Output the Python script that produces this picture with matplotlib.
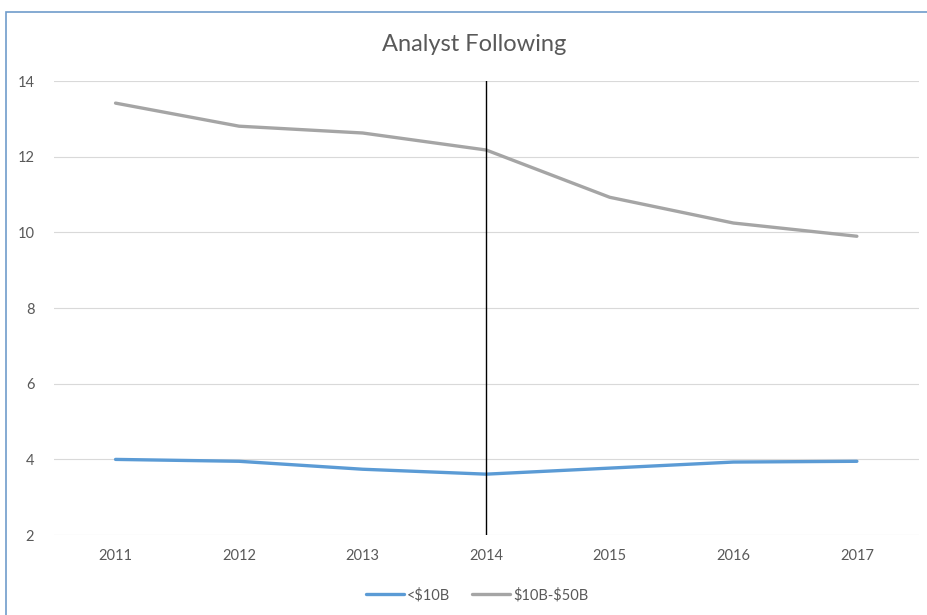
import matplotlib.pyplot as plt
from matplotlib.patches import Rectangle

years = ["2011", "2012", "2013", "2014", "2015", "2016", "2017"]
small_cap = [4.0, 3.95, 3.74, 3.61, 3.77, 3.93, 3.95]
mid_cap = [13.42, 12.81, 12.63, 12.18, 10.93, 10.25, 9.90]
yticks = [2, 4, 6, 8, 10, 12, 14]

plt.rcParams['font.family'] = ['Lato', 'DejaVu Sans']

fig = plt.figure(figsize=(9.27, 6.15), dpi=100)
ax = fig.add_axes([0.058, 0.130, 0.933, 0.738])

x = range(len(years))
ax.plot(x, small_cap, color='#5b9bd5', lw=2.4, label=r'<\$10B', solid_capstyle='round')
ax.plot(x, mid_cap, color='#a5a5a5', lw=2.4, label=r'\$10B-\$50B', solid_capstyle='round')
ax.axvline(3, color='black', lw=1)

ax.set_xlim(-0.5, len(years) - 0.5)
ax.set_ylim(2, 14)
ax.set_yticks(yticks)
ax.set_xticks(list(x))
ax.set_xticklabels(years)
ax.grid(axis='y', color='#d9d9d9', lw=0.8)
ax.set_axisbelow(True)
for s in ax.spines.values():
    s.set_visible(False)
ax.tick_params(length=0, colors='#595959', labelsize=10.5)
ax.tick_params(axis='x', pad=10)
ax.tick_params(axis='y', pad=14)

fig.text(0.511, 0.927, 'Analyst Following', ha='center', va='center',
         fontsize=17, color='#595959')

fig.legend(loc='center', bbox_to_anchor=(0.515, 0.032), ncol=2, frameon=False,
           fontsize=10.5, labelcolor='#595959', handlelength=2.6, columnspacing=1.5,
           handletextpad=0.2)

fig.patches.append(Rectangle((6 / 927, -0.1), 1.0, 1.1 - 12 / 615, transform=fig.transFigure,
                             fill=False, edgecolor='#6f9ccb', lw=1.2))

fig.savefig('out.png', dpi=100)
